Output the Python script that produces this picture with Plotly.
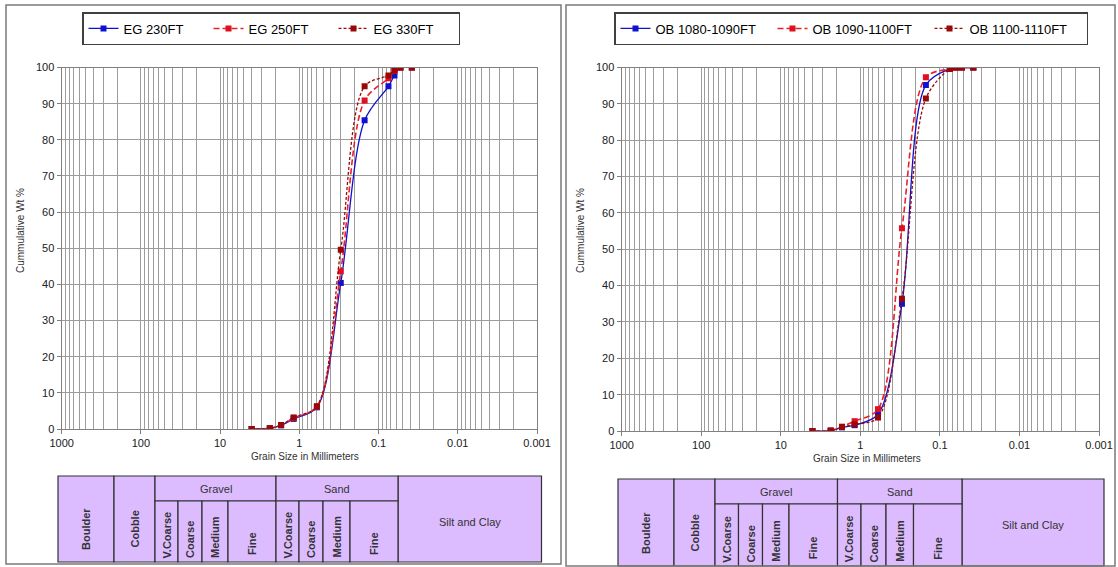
import plotly.graph_objects as go

# ---------------- data ----------------
sizes_mm = [4.0, 2.36, 1.7, 1.18, 0.6, 0.3, 0.15, 0.075, 0.063, 0.053, 0.038]

eg_names = ["EG 230FT", "EG 250FT", "EG 330FT"]
eg_230 = [0, 0.2, 1.0, 2.8, 6.0, 40.4, 85.4, 94.8, 97.8, 100, 100]
eg_250 = [0, 0.2, 1.1, 3.0, 6.2, 43.6, 90.9, 97.0, 99.0, 100, 100]
eg_330 = [0, 0.2, 1.1, 3.2, 6.3, 49.6, 94.8, 97.8, 99.2, 100, 100]

ob_names = ["OB 1080-1090FT", "OB 1090-1100FT", "OB 1100-1110FT"]
ob_1080 = [0, 0.1, 1.0, 1.6, 4.6, 35.0, 95.2, 99.6, 100, 100, 100]
ob_1090 = [0, 0.1, 1.2, 2.7, 6.0, 55.8, 97.3, 99.6, 100, 100, 100]
ob_1100 = [0, 0.1, 1.1, 1.8, 3.7, 36.4, 91.5, 99.6, 100, 100, 100]

x_tick_vals = [1000, 100, 10, 1, 0.1, 0.01, 0.001]
x_tick_text = ["1000", "100", "10", "1", "0.1", "0.01", "0.001"]
y_tick_vals = [0, 10, 20, 30, 40, 50, 60, 70, 80, 90, 100]

table_top_labels = ["Gravel", "Sand"]
table_sub_labels = ["V.Coarse", "Coarse", "Medium", "Fine"]

# ---------------- layout helpers ----------------
W, H = 1118, 567
FONT = "Arial, Liberation Sans, sans-serif"


def px(x):
    return x / W


def py(y):
    return 1 - y / H


def label(x, y, text, font, angle=0):
    return dict(xref="paper", yref="paper", x=px(x), y=py(y), text=text,
                textangle=angle, showarrow=False, font=font,
                xanchor="center", yanchor="middle")


styles = [
    dict(color="#1010c8", dash="solid", width=1.3, mcolor="#1010d0"),
    dict(color="#e8202a", dash="6px,3px", width=1.6, mcolor="#e01020"),
    dict(color="#9a0a0a", dash="3px,2px", width=1.3, mcolor="#980808"),
]

fig = go.Figure()

panels = [
    dict(names=eg_names, series=[eg_230, eg_250, eg_330], xa="x", ya="y", legend="legend"),
    dict(names=ob_names, series=[ob_1080, ob_1090, ob_1100], xa="x2", ya="y2", legend="legend2"),
]

for p in panels:
    for name, vals, st in zip(p["names"], p["series"], styles):
        fig.add_trace(go.Scatter(
            x=sizes_mm, y=vals, name=name, mode="lines+markers",
            xaxis=p["xa"], yaxis=p["ya"], legend=p["legend"],
            line=dict(color=st["color"], dash=st["dash"], width=st["width"],
                      shape="spline", smoothing=0.9),
            marker=dict(symbol="square", size=6, color=st["mcolor"]),
        ))

minor_vals = [m * 10 ** e for e in range(-3, 3) for m in range(2, 10)]
grid_col = "#9c9c9c"


def xaxis_def(x0, x1, anchor):
    return dict(
        type="log", range=[3, -3], domain=[px(x0), px(x1)], anchor=anchor,
        automargin=False,
        tickmode="array", tickvals=x_tick_vals, ticktext=x_tick_text,
        showgrid=True, gridcolor=grid_col, gridwidth=1.3,
        minor=dict(tickmode="array", tickvals=minor_vals, showgrid=True,
                   gridcolor=grid_col, gridwidth=1.3, ticks=""),
        showline=True, linecolor="#808080", linewidth=1.3, mirror=True,
        ticks="outside", ticklen=4, tickcolor="#808080",
        tickfont=dict(family=FONT, size=11, color="#202020"),
        zeroline=False,
    )


def yaxis_def(y0, y1, anchor):
    return dict(
        range=[0, 100], domain=[py(y0), py(y1)], anchor=anchor,
        automargin=False,
        tickmode="array", tickvals=y_tick_vals,
        showgrid=True, gridcolor=grid_col, gridwidth=1.3,
        showline=True, linecolor="#808080", linewidth=1.3, mirror=True,
        ticks="outside", ticklen=4, tickcolor="#808080",
        tickfont=dict(family=FONT, size=11, color="#202020"),
        zeroline=False,
    )


shapes = []
annotations = []

# outer frames
shapes.append(dict(type="rect", xref="paper", yref="paper", x0=px(6), x1=px(561),
                   y0=py(564), y1=py(5), line=dict(color="#7a7a7a", width=1.5)))
shapes.append(dict(type="rect", xref="paper", yref="paper", x0=px(566), x1=px(1115),
                   y0=py(566), y1=py(5), line=dict(color="#7a7a7a", width=1.5)))

# axis titles
title_font = dict(family=FONT, size=10, color="#303030")
for cx, tx, ty in [(20, 305, 456), (580, 867, 458)]:
    annotations.append(label(cx, 231, "Cummulative Wt %", title_font, -90))
    annotations.append(label(tx, ty, "Grain Size in Millimeters", title_font))

# classification tables
tables = [
    dict(xs=[58, 114, 155, 178, 202, 228, 276, 299, 323, 350, 398, 541.5], top=476, mid=501, bot=562),
    dict(xs=[618, 674, 715, 738.5, 762.5, 789, 837.5, 861, 886, 913.5, 962, 1104], top=479, mid=504, bot=566),
]
sub_offsets = [27, 22, 25, 18]  # label centre distance above cell bottom
fill = "#dcbcff"
edge = dict(color="#303030", width=1.2)
tfont = dict(family=FONT, size=11, color="#333333")
bfont = dict(family=FONT, size=11, color="#333333")
for t in tables:
    xs, top, mid, bot = t["xs"], t["top"], t["mid"], t["bot"]
    for a, b in [(xs[0], xs[1]), (xs[1], xs[2]), (xs[10], xs[11])]:
        shapes.append(dict(type="rect", xref="paper", yref="paper", x0=px(a), x1=px(b),
                           y0=py(bot), y1=py(top), fillcolor=fill, line=edge, layer="below"))
    for i, (a, b) in enumerate([(xs[2], xs[6]), (xs[6], xs[10])]):
        shapes.append(dict(type="rect", xref="paper", yref="paper", x0=px(a), x1=px(b),
                           y0=py(mid), y1=py(top), fillcolor=fill, line=edge, layer="below"))
        annotations.append(label((a + b) / 2, (top + mid) / 2, table_top_labels[i], tfont))
    for g in range(2):
        for k in range(4):
            a, b = xs[2 + 4 * g + k], xs[3 + 4 * g + k]
            shapes.append(dict(type="rect", xref="paper", yref="paper", x0=px(a), x1=px(b),
                               y0=py(bot), y1=py(mid), fillcolor=fill, line=edge, layer="below"))
            annotations.append(label((a + b) / 2, bot - sub_offsets[k],
                                     "<b>" + table_sub_labels[k] + "</b>", bfont, -90))
    for lab, (a, b) in [("Boulder", (xs[0], xs[1])), ("Cobble", (xs[1], xs[2]))]:
        annotations.append(label((a + b) / 2, bot - 33, "<b>" + lab + "</b>", bfont, -90))
    annotations.append(label((xs[10] + xs[11]) / 2, top + 46, "Silt and Clay", tfont))

legend_common = dict(
    orientation="h", yanchor="top", xanchor="center",
    bgcolor="white", bordercolor="#404040", borderwidth=1.5,
    font=dict(family=FONT, size=13, color="#000000"),
    itemclick=False, itemdoubleclick=False, tracegroupgap=0,
)

fig.update_layout(
    width=W, height=H, autosize=False,
    margin=dict(l=0, r=0, t=0, b=0),
    paper_bgcolor="white", plot_bgcolor="white",
    showlegend=True,
    xaxis=xaxis_def(61.7, 537, "y"),
    yaxis=yaxis_def(429, 67.5, "x"),
    xaxis2=xaxis_def(621.7, 1099, "y2"),
    yaxis2=yaxis_def(431, 67.5, "x2"),
    legend=dict(x=px(271), y=py(12), entrywidth=80, **legend_common),
    legend2=dict(x=px(851), y=py(12), entrywidth=112, **legend_common),
    shapes=shapes,
    annotations=annotations,
    font=dict(family=FONT),
)

fig.write_html("out.html", config={"displayModeBar": False},
               post_script="document.body.style.margin='0';")
